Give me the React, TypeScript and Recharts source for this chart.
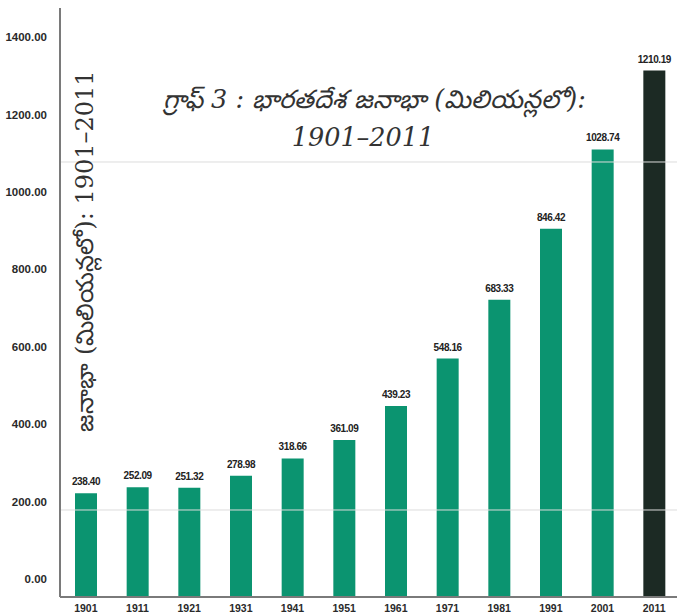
import React from "react";
import {
  BarChart,
  Bar,
  XAxis,
  YAxis,
  Cell,
  LabelList,
  ReferenceLine,
} from "recharts";

// census years and population (millions)
const years = ["1901", "1911", "1921", "1931", "1941", "1951", "1961", "1971", "1981", "1991", "2001", "2011"];
const population = [238.4, 252.09, 251.32, 278.98, 318.66, 361.09, 439.23, 548.16, 683.33, 846.42, 1028.74, 1210.19];
const yTicks = [0, 200, 400, 600, 800, 1000, 1200, 1400];
const gridValues = [200, 1000];

const titleLine1 = "గ్రాఫ్ 3 : భారతదేశ జనాభా (మిలియన్లలో):";
const titleLine2 = "1901–2011";
const yLabel = "జనాభా (మిలియన్లలో): 1901–2011";

const data = years.map((year, i) => ({ year, value: population[i] }));

const GREEN = "#0b9470";
const DARK = "#1c2a24";
const AXIS = "#7a7a7a";

const App: React.FC = () => {
  return (
    <div
      style={{
        position: "absolute",
        left: 0,
        top: 0,
        width: 677,
        height: 614,
        overflow: "hidden",
        background: "#fff",
      }}
    >
      <BarChart
        width={680}
        height={614}
        data={data}
        margin={{ top: 8, right: 0, left: 0, bottom: 0 }}
        barSize={22}
      >
        {/* the printed tick labels don't line up with the bar heights, so they get their own axis */}
        <YAxis
          yAxisId="labels"
          width={60}
          domain={[-46.5, 1475.5]}
          ticks={yTicks}
          allowDataOverflow
          tickFormatter={(v: number) => v.toFixed(2)}
          tickLine={false}
          tickSize={0}
          tickMargin={13}
          axisLine={{ stroke: AXIS, strokeWidth: 2 }}
          tick={{ fill: "#2a2a2a", fontSize: 11.5, fontWeight: 700, fontFamily: "Liberation Sans, Arial, sans-serif" }}
        />
        <YAxis yAxisId="bars" hide width={0} domain={[0, 1354]} allowDataOverflow />
        <XAxis
          dataKey="year"
          height={17}
          tickLine={false}
          tickMargin={2}
          axisLine={{ stroke: AXIS, strokeWidth: 2 }}
          interval={0}
          tick={{ fill: "#2a2a2a", fontSize: 10.5, fontWeight: 700, fontFamily: "Liberation Sans, Arial, sans-serif" }}
        />
        {gridValues.map((g) => (
          <ReferenceLine key={g} yAxisId="bars" y={g} stroke="#dcdcdc" strokeWidth={1} />
        ))}
        <Bar dataKey="value" yAxisId="bars" isAnimationActive={false}>
          {data.map((d) => (
            <Cell key={d.year} fill={d.year === "2011" ? DARK : GREEN} />
          ))}
          <LabelList
            dataKey="value"
            position="top"
            offset={8}
            formatter={(v: any) => Number(v).toFixed(2)}
            style={{ fill: "#222", fontSize: 10, fontWeight: 700, fontFamily: "Liberation Sans, Arial, sans-serif", letterSpacing: -0.4 }}
          />
        </Bar>
      </BarChart>

      <div
        style={{
          position: "absolute",
          left: 163,
          top: 80,
          width: 400,
          textAlign: "center",
          fontFamily: "DejaVu Serif, serif",
          fontStyle: "italic",
          fontSize: 25.5,
          lineHeight: "38px",
          color: "#333",
          whiteSpace: "nowrap",
        }}
      >
        <div>{titleLine1}</div>
        <div>{titleLine2}</div>
      </div>

      <div
        style={{
          position: "absolute",
          left: 88,
          top: 251,
          transform: "translate(-50%, -50%) rotate(-90deg)",
          fontFamily: "DejaVu Serif, serif",
          fontSize: 24,
          color: "#333",
          whiteSpace: "nowrap",
        }}
      >
        {yLabel}
      </div>
    </div>
  );
};

export default App;
